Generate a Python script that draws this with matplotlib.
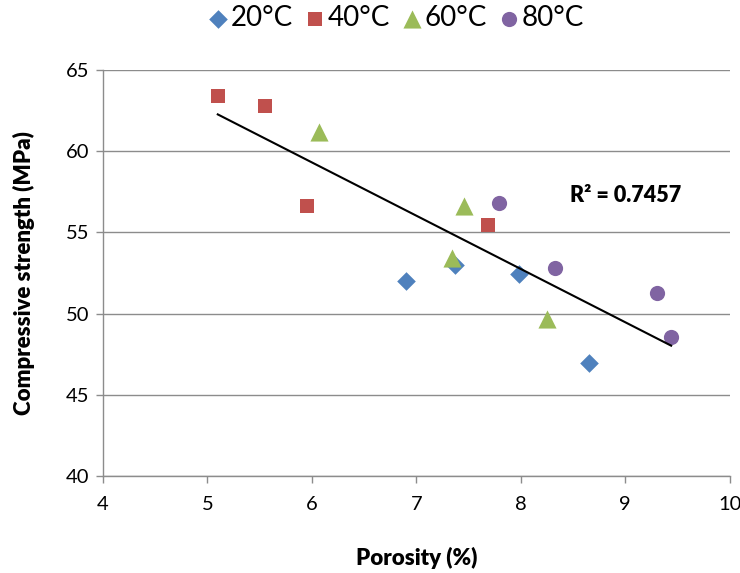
#!/usr/bin/env python3

import matplotlib
matplotlib.use("Agg")
import matplotlib.pyplot as plt
import numpy as np

plt.rcParams['font.family'] = ['Lato', 'DejaVu Sans']

# Porosity (%) and compressive strength (MPa) per curing temperature
por_20 = [6.90, 7.37, 7.98, 8.65]
str_20 = [52.0, 53.0, 52.45, 46.95]
por_40 = [5.10, 5.55, 5.95, 7.69]
str_40 = [63.4, 62.8, 56.6, 55.45]
por_60 = [6.07, 7.46, 7.34, 8.25]
str_60 = [61.2, 56.6, 53.4, 49.7]
por_80 = [7.79, 8.33, 9.30, 9.44]
str_80 = [56.8, 52.8, 51.3, 48.55]

labels = ['20°C', '40°C', '60°C', '80°C']
colors = ['#4F81BD', '#C0504D', '#9BBB59', '#8064A2']
markers = ['D', 's', '^', 'o']
sizes = [90, 110, 170, 120]

r2_text = 'R² = 0.7457'
x_ticks = [4, 5, 6, 7, 8, 9, 10]
y_ticks = [40, 45, 50, 55, 60, 65]

fig = plt.figure(figsize=(7.4, 5.73), dpi=100)
ax = fig.add_axes([0.139, 0.169, 0.847, 0.709])

series = [(por_20, str_20), (por_40, str_40), (por_60, str_60), (por_80, str_80)]
for (xs, ys), lab, c, m, s in zip(series, labels, colors, markers, sizes):
    ax.scatter(xs, ys, s=s, marker=m, color=c, label=lab, zorder=3, linewidths=0)

# linear trendline over all points
all_x = np.array(por_20 + por_40 + por_60 + por_80)
all_y = np.array(str_20 + str_40 + str_60 + str_80)
slope, intercept = np.polyfit(all_x, all_y, 1)
xl = np.array([all_x.min(), all_x.max()])
ax.plot(xl, slope * xl + intercept, color='black', lw=1.5, zorder=4)

ax.text(9.0, 57.3, r2_text, fontsize=15.5, fontweight='heavy', ha='center', va='center')

ax.set_xlim(4, 10)
ax.set_ylim(40, 65)
ax.set_xticks(x_ticks)
ax.set_yticks(y_ticks)
ax.yaxis.grid(True, color='#8c8c8c', lw=1)
ax.set_axisbelow(True)
for sp in ['top', 'right']:
    ax.spines[sp].set_visible(False)
for sp in ['left', 'bottom']:
    ax.spines[sp].set_color('#8c8c8c')
    ax.spines[sp].set_linewidth(1)
ax.tick_params(colors='#8c8c8c', labelcolor='black', labelsize=14.5, length=5, width=1)
ax.tick_params(axis='x', pad=9)
ax.tick_params(axis='y', pad=5)

ax.set_xlabel('Porosity (%)', fontsize=16, fontweight='heavy', labelpad=25)
ax.set_ylabel('Compressive strength (MPa)', fontsize=16, fontweight='heavy', labelpad=22)

fig.legend(loc='center', bbox_to_anchor=(0.538, 0.968), ncol=4, frameon=False,
           fontsize=20, handlelength=0.4, handletextpad=0.25, columnspacing=0.6,
           scatterpoints=1)

fig.savefig('out.png', dpi=100)
